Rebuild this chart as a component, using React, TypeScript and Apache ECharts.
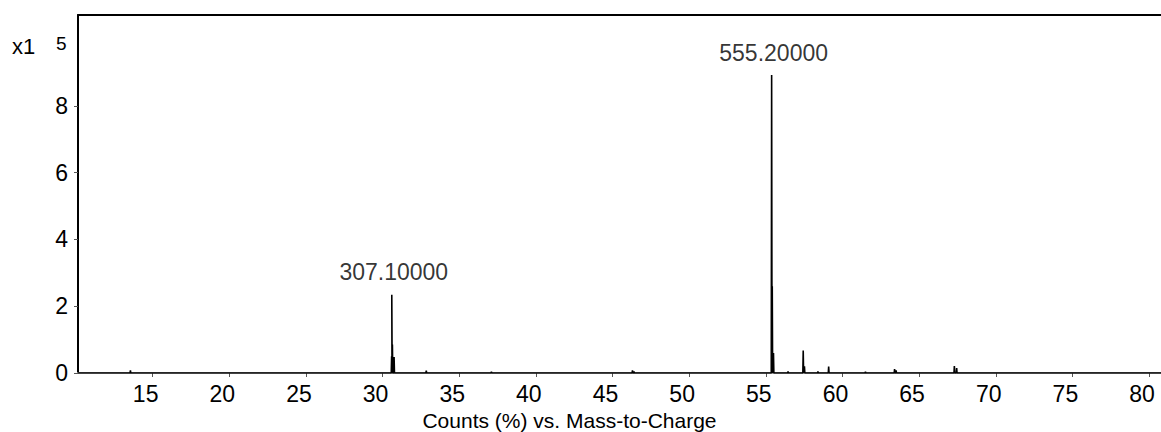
import React, { useEffect, useRef } from "react";
import * as echarts from "echarts";

// ---- data ----
const xTickValues = [15, 20, 25, 30, 35, 40, 45, 50, 55, 60, 65, 70, 75, 80];
const yTickValues = [0, 2, 4, 6, 8];
const xRange = [10.13, 80.78];
const yRange = [0, 10.72];

const peakPositions = [13.55, 30.59, 30.6, 30.64, 30.75, 32.85, 37.1, 46.3, 46.4, 55.38, 55.42, 55.5, 56.45, 57.44, 57.52, 58.4, 59.1, 61.5, 63.4, 63.5, 67.3, 67.45];
const peakIntensities = [0.08, 0.5, 2.34, 0.85, 0.48, 0.07, 0.04, 0.08, 0.05, 8.92, 2.6, 0.6, 0.05, 0.67, 0.2, 0.05, 0.19, 0.04, 0.12, 0.08, 0.21, 0.15];

const labelledPeakX = [30.6, 55.38];
const labelledPeakY = [2.34, 8.92];
const labelledPeakText = ["307.10000", "555.20000"];

const xAxisTitle = "Counts (%) vs. Mass-to-Charge";
const scalePrefix = "x1";
const scaleExponent = "5";

const FONT = "Liberation Sans, Arial, sans-serif";

function buildSpectrum(): number[][] {
  const halfWidth = 0.025;
  const out: number[][] = [[xRange[0], 0]];
  peakPositions.forEach((x, i) => {
    out.push([x - halfWidth, 0]);
    out.push([x, peakIntensities[i]]);
    out.push([x + halfWidth, 0]);
  });
  out.push([xRange[1], 0]);
  return out;
}

export default function App() {
  const ref = useRef<HTMLDivElement>(null);

  useEffect(() => {
    if (!ref.current) return;
    const chart = echarts.init(ref.current, null, { renderer: "svg" });
    chart.setOption({
      animation: false,
      backgroundColor: "#ffffff",
      textStyle: { fontFamily: FONT },
      grid: {
        left: 78,
        right: 0,
        top: 15,
        bottom: 59,
        containLabel: false,
        outerBoundsMode: "none",
      },
      xAxis: [
        {
          type: "value",
          min: xRange[0],
          max: xRange[1],
          position: "bottom",
          offset: 2,
          axisLine: { show: true, lineStyle: { color: "#9a9a9a", width: 2 } },
          axisTick: {
            show: true,
            customValues: xTickValues,
            length: 4,
            lineStyle: { color: "#555", width: 1 },
          },
          axisLabel: {
            customValues: xTickValues,
            color: "#000",
            fontSize: 23,
            fontFamily: FONT,
            margin: 7,
            padding: [0, 14, 0, 0],
            showMinLabel: true,
            showMaxLabel: true,
          },
          splitLine: { show: false },
          name: xAxisTitle,
          nameLocation: "middle",
          nameGap: 29,
          nameTextStyle: {
            color: "#000",
            fontSize: 21,
            fontFamily: FONT,
            padding: [0, 100, 0, 0],
          },
        },
        {
          type: "value",
          min: xRange[0],
          max: xRange[1],
          position: "top",
          axisLine: { show: true, onZero: false, lineStyle: { color: "#000", width: 2 } },
          axisTick: { show: false },
          axisLabel: { show: false },
          splitLine: { show: false },
        },
      ],
      yAxis: {
        type: "value",
        min: yRange[0],
        max: yRange[1],
        axisLine: { show: true, lineStyle: { color: "#000", width: 2 } },
        axisTick: {
          show: true,
          customValues: yTickValues,
          length: 4,
          lineStyle: { color: "#555", width: 1 },
        },
        axisLabel: {
          customValues: yTickValues,
          color: "#000",
          fontSize: 23,
          fontFamily: FONT,
          margin: 10,
          padding: [0, 0, 8, 0],
        },
        splitLine: { show: false },
      },
      series: [
        {
          type: "line",
          xAxisIndex: 0,
          data: buildSpectrum(),
          showSymbol: false,
          symbol: "none",
          lineStyle: { color: "#000", width: 1.6 },
          z: 3,
        },
        {
          type: "scatter",
          xAxisIndex: 0,
          data: labelledPeakX.map((x, i) => [x, labelledPeakY[i]]),
          symbolSize: 0,
          label: {
            show: true,
            position: "top",
            distance: 11,
            offset: [2, 0],
            color: "#000",
            fontSize: 23,
            fontFamily: FONT,
            formatter: (p: any) => labelledPeakText[p.dataIndex],
          },
          z: 4,
        },
      ],
      graphic: [
        {
          type: "text",
          left: 12,
          top: 35,
          style: { text: scalePrefix, fontSize: 22, fontFamily: FONT, fill: "#000" },
        },
        {
          type: "text",
          left: 56,
          top: 34,
          style: { text: scaleExponent, fontSize: 19, fontFamily: FONT, fill: "#000" },
        },
      ],
    });
    return () => chart.dispose();
  }, []);

  return (
    <div
      ref={ref}
      style={{ position: "absolute", left: 0, top: 0, width: 1161, height: 432, background: "#fff" }}
    />
  );
}
